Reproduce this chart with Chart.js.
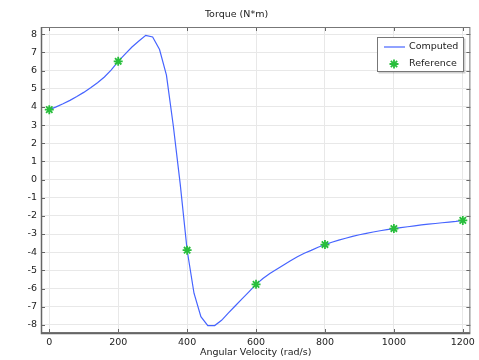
<!DOCTYPE html>
<html><head><meta charset="utf-8">
<script src="https://cdn.jsdelivr.net/npm/chart.js@4"></script>
<style>html,body{margin:0;padding:0;background:#fff}#wrap{width:479px;height:360px}</style>
</head><body><div id="wrap"><canvas id="c" width="479" height="360"></canvas></div>
<script>
const titleText = "Torque (N*m)";
const xTitle = "Angular Velocity (rad/s)";
const computedLabel = "Computed";
const referenceLabel = "Reference";

const computedVelocity = [0,20,40,60,80,100,120,140,160,180,200,220,240,260,280,300,320,340,360,380,400,420,440,460,480,500,520,540,560,580,600,620,640,660,680,700,720,740,760,780,800,820,840,860,880,900,920,940,960,980,1000,1020,1040,1060,1080,1100,1120,1140,1160,1180,1200];
const computedTorque = [3.85,4.00,4.17,4.36,4.57,4.80,5.05,5.33,5.65,6.04,6.51,6.91,7.30,7.63,7.94,7.85,7.16,5.75,2.95,-0.25,-3.88,-6.26,-7.55,-8.04,-8.04,-7.75,-7.34,-6.95,-6.56,-6.17,-5.77,-5.45,-5.17,-4.94,-4.70,-4.47,-4.25,-4.06,-3.90,-3.73,-3.58,-3.45,-3.34,-3.23,-3.13,-3.04,-2.96,-2.89,-2.82,-2.76,-2.70,-2.65,-2.60,-2.55,-2.50,-2.46,-2.42,-2.38,-2.34,-2.30,-2.25];
const referenceVelocity = [0,200,400,600,800,1000,1200];
const referenceTorque = [3.85,6.51,-3.89,-5.77,-3.58,-2.70,-2.25];
const xTicks = [0,200,400,600,800,1000,1200];
const yTicks = [-8,-7,-6,-5,-4,-3,-2,-1,0,1,2,3,4,5,6,7,8];

const lineColor = 'rgb(70,100,255)';
const markColor = 'rgb(40,190,60)';
const FONT = 'DejaVu Sans';

const framePlugin = {
  id: 'frame',
  afterDatasetsDraw(chart) {
    const {ctx, chartArea: a, scales} = chart;
    ctx.save();
    ctx.strokeStyle = '#666';
    ctx.lineWidth = 1;
    ctx.beginPath();
    xTicks.forEach(v => {
      const x = Math.round(scales.x.getPixelForValue(v)) + 0.5;
      ctx.moveTo(x, a.bottom); ctx.lineTo(x, a.bottom - 4);
      ctx.moveTo(x, a.top); ctx.lineTo(x, a.top + 4);
    });
    yTicks.forEach(v => {
      const y = Math.round(scales.y.getPixelForValue(v)) + 0.5;
      ctx.moveTo(a.left, y); ctx.lineTo(a.left + 4, y);
      ctx.moveTo(a.right, y); ctx.lineTo(a.right - 4, y);
    });
    ctx.stroke();
    ctx.lineWidth = 1;
    ctx.strokeStyle = '#777';
    ctx.strokeRect(a.left + 0.5, a.top + 0.5, a.right - a.left - 1, a.bottom - a.top - 1);
    ctx.lineWidth = 1.5;
    ctx.strokeStyle = '#666';
    ctx.beginPath();
    ctx.moveTo(a.left + 0.5, a.top);
    ctx.lineTo(a.left + 0.5, a.bottom + 0.5);
    ctx.lineTo(a.right, a.bottom + 0.5);
    ctx.stroke();
    ctx.restore();
  },
  afterDraw(chart) {
    const ctx = chart.ctx;
    const ds = chart.data.datasets;
    const bx = 377, by = 37, bw = 87, bh = 35;
    ctx.save();
    ctx.fillStyle = 'rgba(0,0,0,0.18)';
    ctx.fillRect(bx + 1.5, by + 1.5, bw, bh);
    ctx.fillStyle = '#fff';
    ctx.fillRect(bx, by, bw, bh);
    ctx.strokeStyle = '#777';
    ctx.lineWidth = 1;
    ctx.strokeRect(bx + 0.5, by + 0.5, bw - 1, bh - 1);
    ctx.strokeStyle = ds[0].borderColor;
    ctx.lineWidth = 1.2;
    ctx.beginPath(); ctx.moveTo(384, 47); ctx.lineTo(405, 47); ctx.stroke();
    ctx.strokeStyle = ds[1].borderColor;
    ctx.lineWidth = 1.8;
    Chart.helpers.drawPoint(ctx, {pointStyle: 'star', radius: 4.5, borderWidth: 1.8}, 394, 64);
    ctx.fillStyle = '#222';
    ctx.font = '9.5px "' + FONT + '"';
    ctx.textBaseline = 'middle';
    ctx.textAlign = 'left';
    ctx.fillText(ds[0].label, 409, 47);
    ctx.fillText(ds[1].label, 409, 64);
    ctx.restore();
  }
};

new Chart(document.getElementById('c'), {
  type: 'scatter',
  data: {
    datasets: [
      {
        label: computedLabel,
        data: computedVelocity.map((v, i) => ({x: v, y: computedTorque[i]})),
        showLine: true,
        borderColor: lineColor,
        backgroundColor: lineColor,
        borderWidth: 1.2,
        pointRadius: 0,
        tension: 0,
        order: 2
      },
      {
        label: referenceLabel,
        data: referenceVelocity.map((v, i) => ({x: v, y: referenceTorque[i]})),
        showLine: false,
        borderColor: markColor,
        backgroundColor: markColor,
        pointStyle: 'star',
        pointRadius: 4.5,
        pointBorderWidth: 1.8,
        order: 1
      }
    ]
  },
  options: {
    responsive: false,
    animation: false,
    devicePixelRatio: 1,
    layout: {padding: {left: 0, right: 6, top: 0, bottom: 0}},
    plugins: {
      legend: {display: false},
      tooltip: {enabled: false},
      title: {
        display: true, text: titleText, color: '#222',
        font: {family: FONT, size: 9.5, weight: 'normal'},
        padding: {top: 9, bottom: 6.6}
      }
    },
    scales: {
      x: {
        type: 'linear', min: -24, max: 1222,
        afterBuildTicks: s => { s.ticks = xTicks.map(v => ({value: v})); },
        afterFit: s => { s.height = 27; },
        grid: {color: '#e8e8e8', drawTicks: false, lineWidth: 1},
        border: {display: false},
        ticks: {color: '#222', padding: 4, font: {family: FONT, size: 9.5}, maxRotation: 0, callback: v => String(v)},
        title: {display: true, text: xTitle, color: '#222', font: {family: FONT, size: 9.5}, padding: {top: 0, bottom: 2}}
      },
      y: {
        type: 'linear', min: -8.45, max: 8.4,
        afterBuildTicks: s => { s.ticks = yTicks.map(v => ({value: v})); },
        afterFit: s => { s.width = 41; },
        grid: {color: '#e8e8e8', drawTicks: false, lineWidth: 1},
        border: {display: false},
        ticks: {color: '#222', padding: 4, font: {family: FONT, size: 9.5}, callback: v => String(v)}
      }
    }
  },
  plugins: [framePlugin]
});
</script>
</body></html>
